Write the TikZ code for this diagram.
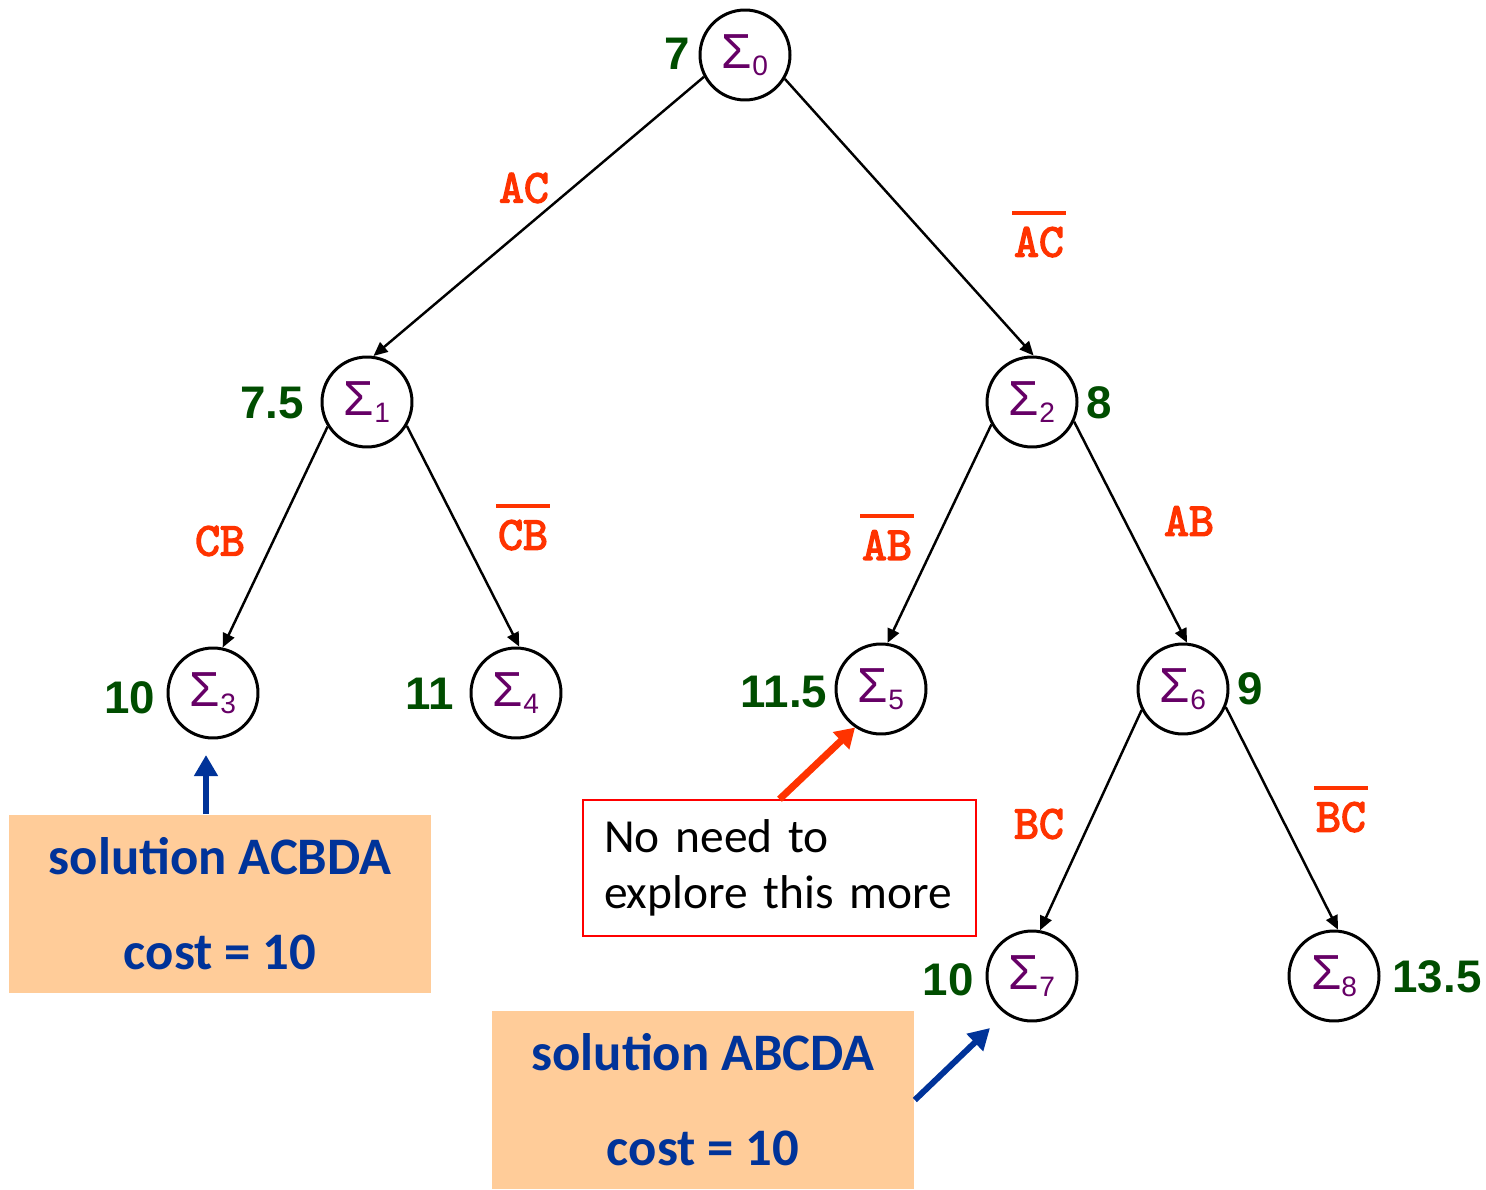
\documentclass[tikz,border=0pt]{standalone}
\usepackage{fontspec}
\setmainfont{Liberation Sans}
\newfontfamily\calfont{Carlito}
\newfontfamily\courfont{lmmono10-regular.otf}[FakeBold=3]
\usetikzlibrary{arrows.meta,positioning}

\definecolor{costgreen}{RGB}{0,77,0}
\definecolor{sigpurple}{RGB}{102,0,102}
\definecolor{lblorange}{RGB}{255,51,0}
\definecolor{solblue}{RGB}{0,51,153}
\definecolor{solfill}{RGB}{255,204,153}

% sigma with lowered index, and a label with a bar over it
\newcommand{\sig}[1]{Σ\raisebox{-4pt}{\fontsize{16}{16}\selectfont #1}}
\newcommand{\nbar}[1]{\vbox{\hrule height 2.2pt\kern 7pt\hbox{\kern1pt#1\kern1pt}}}

\begin{document}
\begin{tikzpicture}[x=0.02cm,y=-0.02cm,
  state/.style={draw,circle,line width=1.7pt,minimum size=1.8cm,inner sep=0pt,
    text=sigpurple,font=\fontsize{28}{30}\selectfont},
  cost/.style={inner sep=0pt,text=costgreen,font=\bfseries\fontsize{26}{28}\selectfont},
  choice/.style={inner sep=0pt,text=lblorange,font=\courfont\fontsize{27}{29}\selectfont},
  solbox/.style={fill=solfill,minimum width=8.46cm,minimum height=3.58cm,align=center,
    text=solblue,font=\calfont\bfseries\fontsize{30}{54}\selectfont},
  notebox/.style={draw=red,line width=0.9pt,text width=7.02cm,inner xsep=0.42cm,
    minimum height=2.72cm,align=left,font=\calfont\fontsize{27}{32}\selectfont},
  solarrow/.style={draw=solblue,line width=3.4pt,-{Triangle[length=12pt,width=13pt]}},
  notearrow/.style={draw=lblorange,line width=4pt,-{Triangle[length=11pt,width=13pt]}},
  >={Triangle[length=8pt,width=7pt]}]

  \useasboundingbox (0,0) rectangle (1486,1189);

  % Draw the states
  \node[state] (s0) at (745,55)   {\sig{0}};
  \node[state] (s1) at (367,402)  {\sig{1}};
  \node[state] (s2) at (1032,402) {\sig{2}};
  \node[state] (s3) at (213,693)  {\sig{3}};
  \node[state] (s4) at (516,693)  {\sig{4}};
  \node[state] (s5) at (881,689)  {\sig{5}};
  \node[state] (s6) at (1183,689) {\sig{6}};
  \node[state] (s7) at (1032,976) {\sig{7}};
  \node[state] (s8) at (1334,976) {\sig{8}};

  % Draw the bounds next to the states
  \node[cost] (c0) at (677,54)   {7};
  \node[cost] (c1) at (272,403)  {7.5};
  \node[cost] (c2) at (1099,403) {8};
  \node[cost] (c3) at (130,698)  {10};
  \node[cost] (c4) at (430,694)  {11};
  \node[cost] (c5) at (784,692)  {11.5};
  \node[cost] (c6) at (1250,689) {9};
  \node[cost] (c7) at (948,980)  {10};
  \node[cost] (c8) at (1437,977) {13.5};

  % Draw the branches
  \draw[->,line width=1.4pt] (s0.208) -- (s1.82);
  \draw[->,line width=1.4pt] (s0.329) -- (s2.88);
  \draw[->,line width=1.4pt] (s1.212) -- (s3.78);
  \draw[->,line width=1.4pt] (s1.329) -- (s4.86);
  \draw[->,line width=1.4pt] (s2.209) -- (s5.82);
  \draw[->,line width=1.4pt] (s2.335) -- (s6.85);
  \draw[->,line width=1.4pt] (s6.207) -- (s7.80);
  \draw[->,line width=1.4pt] (s6.337) -- (s8.85);

  % Draw the branch labels
  \node[choice] (l01) at (524,188)  {AC};
  \node[choice] (l02) at (1039,234) {\nbar{AC}};
  \node[choice] (l13) at (220,541)  {CB};
  \node[choice] (l14) at (523,527)  {\nbar{CB}};
  \node[choice] (l25) at (887,537)  {\nbar{AB}};
  \node[choice] (l26) at (1189,521) {AB};
  \node[choice] (l67) at (1039,824) {BC};
  \node[choice] (l68) at (1341,809) {\nbar{BC}};

  % Draw the solution boxes and their arrows
  \node[solbox] (sol1) at (220,904)  {solution ACBDA\\cost = 10};
  \node[solbox] (sol2) at (703,1100) {solution ABCDA\\cost = 10};
  \coordinate (tip3) at (206,755);
  \coordinate (tip7) at (990,1028);
  \draw[solarrow] (sol1.north -| tip3) -- (tip3);
  \draw[solarrow] (sol2.east) -- (tip7);

  % Draw the pruning note
  \node[notebox] (note) at (779.5,868) {No need to\\explore this more};
  \draw[notearrow] (note.north) -- (s5.236);

\end{tikzpicture}
\end{document}
